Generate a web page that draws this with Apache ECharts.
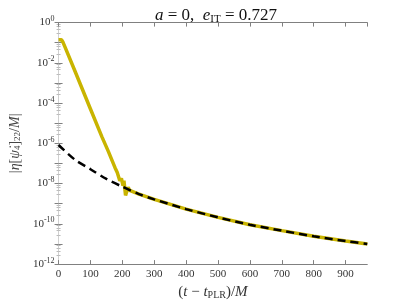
<!DOCTYPE html>
<html>
<head>
<meta charset="utf-8">
<script src="https://cdn.jsdelivr.net/npm/echarts@6/dist/echarts.min.js"></script>
<style>html,body{margin:0;padding:0;background:#fff}#c{width:406px;height:305px}</style>
</head>
<body>
<div id="c"></div>
<script>
// Data
const tPsi = [0, 2, 5, 9, 14, 20, 50, 100, 136, 156, 177, 184, 192, 197, 202, 205, 210, 218, 223, 250, 300, 400, 500, 600, 700, 800, 900, 968];
const vPsi = [0.14, 0.165, 0.17, 0.14, 0.105, 0.062, 4.4e-3, 5.1e-5, 2.1e-6, 4.0e-7, 6.2e-8, 3.6e-8, 1.4e-8, 1.8e-8, 8e-9, 1.4e-8, 2.6e-9, 6.6e-9, 4.6e-9, 3.1e-9, 1.65e-9, 5.4e-10, 2.1e-10, 9.0e-11, 4.6e-11, 2.4e-11, 1.4e-11, 1.0e-11];
const tFit = [0, 50, 100, 150, 200, 250, 300, 400, 500, 600, 700, 800, 900, 968];
const vFit = [8.3e-7, 1.6e-7, 5.2e-8, 1.7e-8, 7.0e-9, 3.1e-9, 1.65e-9, 5.4e-10, 2.1e-10, 9.0e-11, 4.6e-11, 2.4e-11, 1.4e-11, 1.0e-11];
const xTicks = [0, 100, 200, 300, 400, 500, 600, 700, 800, 900];
const yLabelExps = [0, -2, -4, -6, -8, -10, -12];
const yMin = 1e-12, yMax = 1, xMax = 968;

const FONT = 'Liberation Serif';
const chart = echarts.init(document.getElementById('c'), null, {renderer: 'canvas'});
const axisCol = '#808080';
const lblCol = '#333';

function expLabel(v) {
  const e = Math.round(Math.log10(v));
  if (yLabelExps.indexOf(e) < 0) return '';
  return '{b|10}{s|' + e + '}';
}
const richLbl = {
  b: {fontFamily: FONT, fontSize: 11, color: lblCol},
  s: {fontFamily: FONT, fontSize: 8, color: lblCol, padding: [0, 0, 7, 0]}
};

chart.setOption({
  animation: false,
  title: {
    text: '{i|a} = 0,  {i|e}{sub|IT} = 0.727',
    left: 211, top: 2, textAlign: 'center',
    textStyle: {
      fontFamily: FONT, fontSize: 17, color: '#111', fontWeight: 'normal',
      rich: {
        i: {fontFamily: FONT, fontSize: 17, fontStyle: 'italic', color: '#111'},
        sub: {fontFamily: FONT, fontSize: 11, color: '#111', padding: [7, 0, 0, 0]}
      }
    }
  },
  grid: {left: 52.5, right: 38.7, top: 22.6, bottom: 34.5, containLabel: false},
  xAxis: [{
    type: 'value', min: 0, max: xMax, interval: 100,
    axisLine: {lineStyle: {color: axisCol, width: 1}},
    axisTick: {inside: true, length: 4, lineStyle: {color: axisCol}},
    axisLabel: {fontFamily: FONT, fontSize: 11, color: lblCol, margin: 5, showMaxLabel: false,
      formatter: v => xTicks.indexOf(v) >= 0 ? String(v) : ''},
    splitLine: {show: false},
    name: '{p|(}{i|t}{p| − }{i|t}{sub|PLR}{p|)/}{i|M}',
    nameLocation: 'middle', nameGap: 17,
    nameTextStyle: {
      rich: {
        p: {fontFamily: FONT, fontSize: 15, color: '#333'},
        i: {fontFamily: FONT, fontSize: 15, fontStyle: 'italic', color: '#333'},
        sub: {fontFamily: FONT, fontSize: 10, color: '#333', padding: [5, 0, 0, 0]}
      }
    }
  }, {
    type: 'value', min: 0, max: xMax, interval: 100, position: 'top',
    axisLine: {show: true, lineStyle: {color: axisCol, width: 1}},
    axisTick: {inside: true, length: 4, lineStyle: {color: axisCol}},
    axisLabel: {show: false}, splitLine: {show: false}
  }],
  yAxis: [{
    type: 'log', min: yMin, max: yMax, logBase: 10, interval: 1,
    axisLine: {show: true, lineStyle: {color: axisCol, width: 1}},
    axisTick: {show: true, inside: true, length: 4, interval: 0, lineStyle: {color: axisCol}},
    minorTick: {show: true, splitNumber: 5, length: 2, lineStyle: {color: '#bbb'}},
    axisLabel: {margin: 4, formatter: expLabel, rich: richLbl},
    splitLine: {show: false},
    name: '{p||}{i|η}{p|[}{i|ψ̇}{sub|4}{p|]}{sub|22}{p|/}{i|M}{p||}',
    nameLocation: 'middle', nameGap: 27, nameRotate: 90,
    nameTextStyle: {
      rich: {
        p: {fontFamily: FONT, fontSize: 14, color: '#444'},
        i: {fontFamily: FONT, fontSize: 14, fontStyle: 'italic', color: '#444'},
        sub: {fontFamily: FONT, fontSize: 9, color: '#444', padding: [5, 0, 0, 0]}
      }
    }
  }, {
    type: 'log', min: yMin, max: yMax, logBase: 10, interval: 1, position: 'right',
    axisLine: {show: true, lineStyle: {color: '#d0d0d0', width: 1}},
    axisTick: {show: true, inside: true, length: 4, interval: 0, lineStyle: {color: axisCol}},
    minorTick: {show: true, splitNumber: 5, length: 2, lineStyle: {color: '#bbb'}},
    axisLabel: {show: false}, splitLine: {show: false}
  }],
  series: [{
    type: 'line', name: 'psi', showSymbol: false, symbol: 'none',
    data: tPsi.map((t, i) => [t, vPsi[i]]),
    lineStyle: {color: '#c9b400', width: 3.5}, z: 2
  }, {
    type: 'line', name: 'fit', showSymbol: false, symbol: 'none', smooth: 0.3,
    data: tFit.map((t, i) => [t, vFit[i]]),
    lineStyle: {color: '#000', width: 2.5, type: [8, 5]}, z: 3
  }]
});
</script>
</body>
</html>
